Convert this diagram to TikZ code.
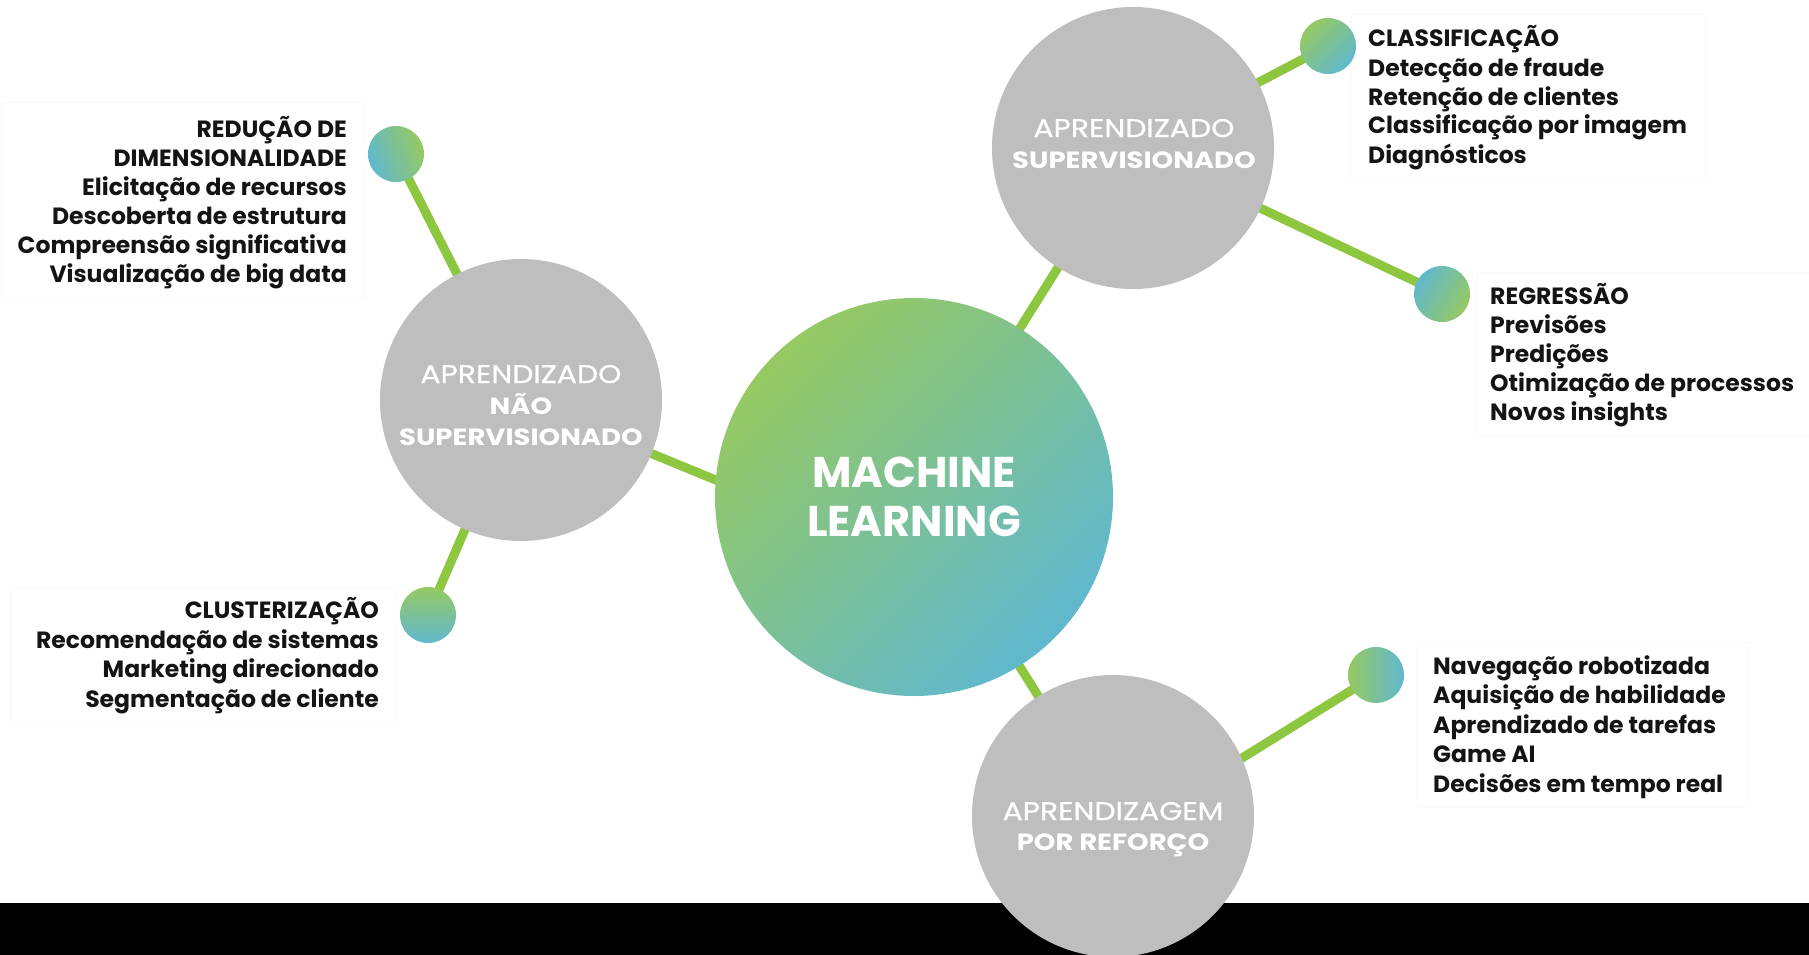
\documentclass[tikz,border=0pt]{standalone}
\usepackage{fontspec}
\setmainfont{Poppins}
\newfontfamily\widefont[FakeStretch=1.17]{Poppins}
\newfontfamily\widemed[FakeStretch=1.17,FakeBold=0.8]{Poppins}
\definecolor{mlgreen}{RGB}{150,201,98}
\definecolor{mlblue}{RGB}{96,184,206}
\definecolor{linegreen}{RGB}{141,198,63}
\definecolor{circgray}{RGB}{190,190,190}
\definecolor{txt}{RGB}{20,20,20}
\pgfdeclarelayer{bg}
\pgfsetlayers{bg,main}
\newcommand{\regl}[1]{{\widemed\fontsize{25.5}{31}\selectfont #1}}
\newcommand{\boldl}[1]{{\widefont\fontsize{23.5}{31}\selectfont\bfseries #1}}
\begin{document}
\begin{tikzpicture}[x=1pt,y=-1pt,
  link/.style={draw=linegreen,line width=9pt},
  bigc/.style={circle,fill=circgray,minimum size=282pt,inner sep=0pt},
  dot/.style={circle,minimum size=56pt,inner sep=0pt},
  lst/.style={font=\fontsize{23.5}{29}\selectfont\bfseries,text=txt,inner sep=0pt},
  lbl/.style={font=\widefont\fontsize{24}{31}\selectfont,text=white,align=center,inner sep=0pt},
  panel/.style={fill=white,draw=black!2.5,line width=1pt}
]
\useasboundingbox (0,0) rectangle (1809,955);

% main circles
\node[bigc] (sup) at (1133,148) {};
\node[bigc] (uns) at (521,400) {};
\node[bigc] (rl) at (1113,816) {};
\node[circle,minimum size=398pt,inner sep=0pt,top color=mlgreen,bottom color=mlblue,shading angle=45] (ml) at (914,497) {};

% small dots
\node[dot,top color=mlblue,bottom color=mlgreen,shading angle=110] (ddim) at (396,154) {};
\node[dot,top color=mlgreen,bottom color=mlblue,shading angle=0] (dclu) at (428,615) {};
\node[dot,top color=mlgreen,bottom color=mlblue,shading angle=45] (dcla) at (1328,46) {};
\node[dot,top color=mlblue,bottom color=mlgreen,shading angle=60] (dreg) at (1442,294) {};
\node[dot,top color=mlgreen,bottom color=mlblue,shading angle=90] (drl) at (1376,675) {};

\coordinate (cUns) at (913,561);
\coordinate (cRl) at (1113,838);

% circle labels (anchor = baseline of last line)
\node[lbl,anchor=base] (tsup) at (1134,168) {\regl{APRENDIZADO}\\\boldl{SUPERVISIONADO}};
\node[lbl,anchor=base] (tuns) at (521,445) {\regl{APRENDIZADO}\\\boldl{NÃO}\\\boldl{SUPERVISIONADO}};
\node[lbl,anchor=base,font=\widefont\fontsize{24}{30}\selectfont] (trl) at (1113,850) {\regl{APRENDIZAGEM}\\\boldl{POR REFORÇO}};
\node[anchor=base,align=center,inner sep=0pt,text=white,font=\fontsize{43}{49}\selectfont\bfseries] (tml) at (914,536) {MACHINE\\LEARNING};

% lists (anchor = baseline of last line)
\node[lst,align=right,anchor=base east] (tdim) at (347,282) {REDUÇÃO DE\\DIMENSIONALIDADE\\Elicitação de recursos\\Descoberta de estrutura\\Compreensão significativa\\Visualização de big data};
\node[lst,align=right,anchor=base east,font=\fontsize{23.5}{29.5}\selectfont\bfseries] (tclu) at (379,707) {CLUSTERIZAÇÃO\\Recomendação de sistemas\\Marketing direcionado\\Segmentação de cliente};
\node[lst,align=left,anchor=base west] (tcla) at (1368,163) {CLASSIFICAÇÃO\\Detecção de fraude\\Retenção de clientes\\Classificação por imagem\\Diagnósticos};
\node[lst,align=left,anchor=base west] (treg) at (1490,420) {REGRESSÃO\\Previsões\\Predições\\Otimização de processos\\Novos insights};
\node[lst,align=left,anchor=base west,font=\fontsize{23.5}{29.5}\selectfont\bfseries] (trlist) at (1433,792) {Navegação robotizada\\Aquisição de habilidade\\Aprendizado de tarefas\\Game AI\\Decisões em tempo real};

\begin{pgfonlayer}{bg}
  \fill[white] (0,0) rectangle (1809,955);
  \fill[black] (0,903) rectangle (1809,955);
  \draw[panel] (0,103) rectangle (363,298);
  \draw[panel] (10,588) rectangle (396,722);
  \draw[panel] (1351,15) rectangle (1704,178);
  \draw[panel] (1476,272) rectangle (1812,435);
  \draw[panel] (1417,642) rectangle (1748,807);
  \draw[link] (ml.center) -- (sup.center);
  \draw[link] (uns.center) -- (cUns);
  \draw[link] (ml.center) -- (rl.center);
  \draw[link] (ddim.center) -- (uns.center);
  \draw[link] (dclu.center) -- (uns.center);
  \draw[link] (dcla.center) -- (sup.center);
  \draw[link] (dreg.center) -- (sup.center);
  \draw[link] (drl.center) -- (cRl);
\end{pgfonlayer}
\end{tikzpicture}
\end{document}
